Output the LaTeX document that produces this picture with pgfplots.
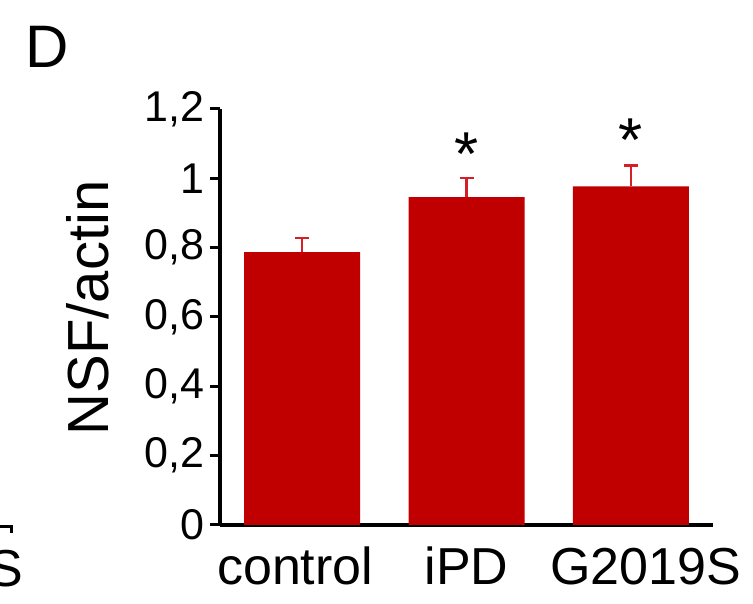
\documentclass[border=0pt]{standalone}
\usepackage{fontspec}
\setmainfont{Liberation Sans}
\usepackage{pgfplots}
\pgfplotsset{compat=1.18}
\definecolor{barred}{RGB}{192,0,0}
\definecolor{errred}{RGB}{214,30,40}
\begin{document}
\begin{tikzpicture}[x=1pt,y=1pt]
\path[use as bounding box] (0,0) rectangle (753,604);
\begin{axis}[
  at={(220pt,79pt)}, anchor=south west,
  scale only axis, width=493pt, height=416pt,
  xmin=-0.5, xmax=2.5, ymin=0, ymax=1.2,
  axis lines=left, axis line style={-, line width=3.8pt},
  xtick={0,1,2}, xticklabels={control\hspace*{14pt},iPD,G2019S\hspace*{-30pt}},
  xtick style={draw=none},
  minor xtick={-0.5,0.5,1.5,2.5},
  minor tick length=7pt,
  minor x tick style={line width=3pt, black},
  ytick={0,0.2,0.4,0.6,0.8,1,1.2},
  yticklabels={0,{0,2},{0,4},{0,6},{0,8},1,{1,2}},
  major tick length=10pt, tick align=outside,
  y tick style={line width=3pt, black},
  tick label style={font=\fontsize{43}{47}\selectfont},
  xticklabel style={font=\fontsize{52}{56}\selectfont, anchor=base, yshift=-50pt},
  yticklabel style={xshift=-2pt},
  clip=false,
]
\addplot[ybar, bar width=116pt, fill=barred, draw=none,
  error bars/.cd, y dir=plus, y explicit,
  error bar style={color=errred, line width=2.2pt},
  error mark options={rotate=90, mark size=7pt, line width=2.2pt, color=errred}]
  coordinates {(0,0.787) +- (0,0.040) (1,0.946) +- (0,0.055) (2,0.977) +- (0,0.060)};
\node[anchor=base, font=\fontsize{62}{66}\selectfont] at (axis cs:1,1.008) {*};
\node[anchor=base, font=\fontsize{62}{66}\selectfont] at (axis cs:2,1.048) {*};
\end{axis}
\node[anchor=base west, font=\fontsize{60}{64}\selectfont] at (22,536) {D};
\node[rotate=90, font=\fontsize{58}{62}\selectfont] at (88,296) {NSF/actin};
\node[anchor=base east, font=\fontsize{52}{56}\selectfont] at (27,17) {S};
\draw[line width=3pt] (0,77) -- (13,77);
\draw[line width=3pt] (11.5,77) -- (11.5,71);
\end{tikzpicture}
\end{document}
